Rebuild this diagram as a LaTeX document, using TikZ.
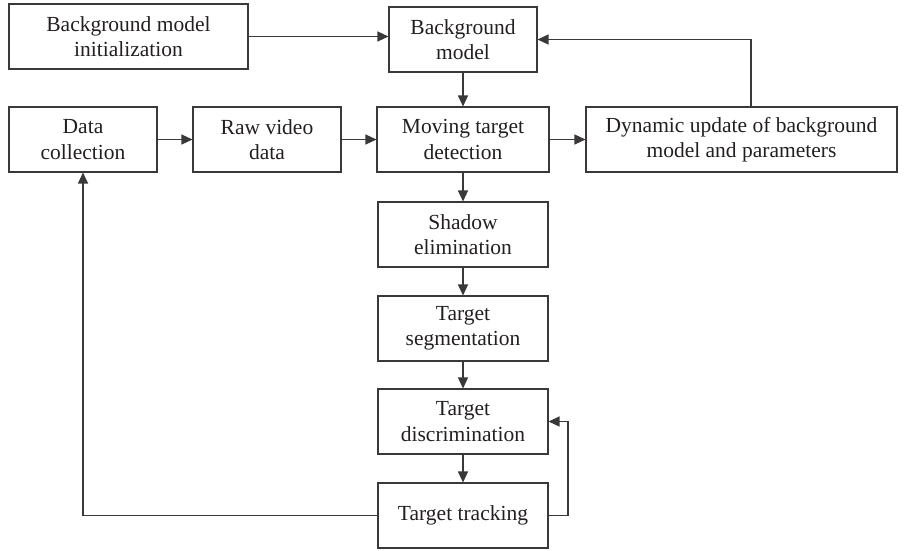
\documentclass[tikz,border=0pt]{standalone}
\usepackage{fontspec}
\setmainfont{Liberation Serif}
\usetikzlibrary{arrows.meta}
\definecolor{ink}{HTML}{231F20}
\definecolor{edge}{HTML}{3A3839}
\begin{document}
\begin{tikzpicture}[x=1pt,y=-1pt,
  box/.style={draw=edge, line width=1.05pt, text=ink, align=center, inner sep=0pt,
    minimum height=65pt, font=\fontsize{21.5}{25.5}\selectfont},
  conn/.style={draw=edge, line width=1.1pt, -{Triangle[length=11pt,width=10pt]}}]
\useasboundingbox (0,0) rectangle (910,550);
\node[box, minimum width=239pt] (init) at (128.5,36.5) {Background model\\initialization};
\node[box, minimum width=148pt] (bg) at (463,39.5) {Background\\model};
\node[box, minimum width=148pt] (dc) at (83,139.5) {Data\\collection};
\node[box, minimum width=148pt] (raw) at (267,139.5) {Raw video\\data};
\node[box, minimum width=172pt] (mtd) at (463,139.5) {Moving target\\detection};
\node[box, minimum width=311pt] (dyn) at (741.5,139.5) {Dynamic update of background\\model and parameters};
\node[box, minimum width=170pt] (sh) at (463,234.5) {Shadow\\elimination};
\node[box, minimum width=170pt] (seg) at (463,328.5) {Target\\segmentation};
\node[box, minimum width=170pt] (dis) at (463,421.5) {Target\\discrimination};
\node[box, minimum width=170pt] (tr) at (463,515.5) {Target tracking};
\coordinate (upx) at (751,0);
\coordinate (rtx) at (568,0);
\draw[conn] (init.east) -- (init.east -| bg.west);
\draw[conn] (bg) -- (mtd);
\draw[conn] (dc) -- (raw);
\draw[conn] (raw) -- (mtd);
\draw[conn] (mtd) -- (dyn);
\draw[conn] (dyn.north -| upx) |- (bg.east);
\draw[conn] (mtd) -- (sh);
\draw[conn] (sh) -- (seg);
\draw[conn] (seg) -- (dis);
\draw[conn] (dis) -- (tr);
\draw[conn] (tr.east) -- (tr.east -| rtx) |- (dis.east);
\draw[conn] (tr.west) -| (dc.south);
\end{tikzpicture}
\end{document}
